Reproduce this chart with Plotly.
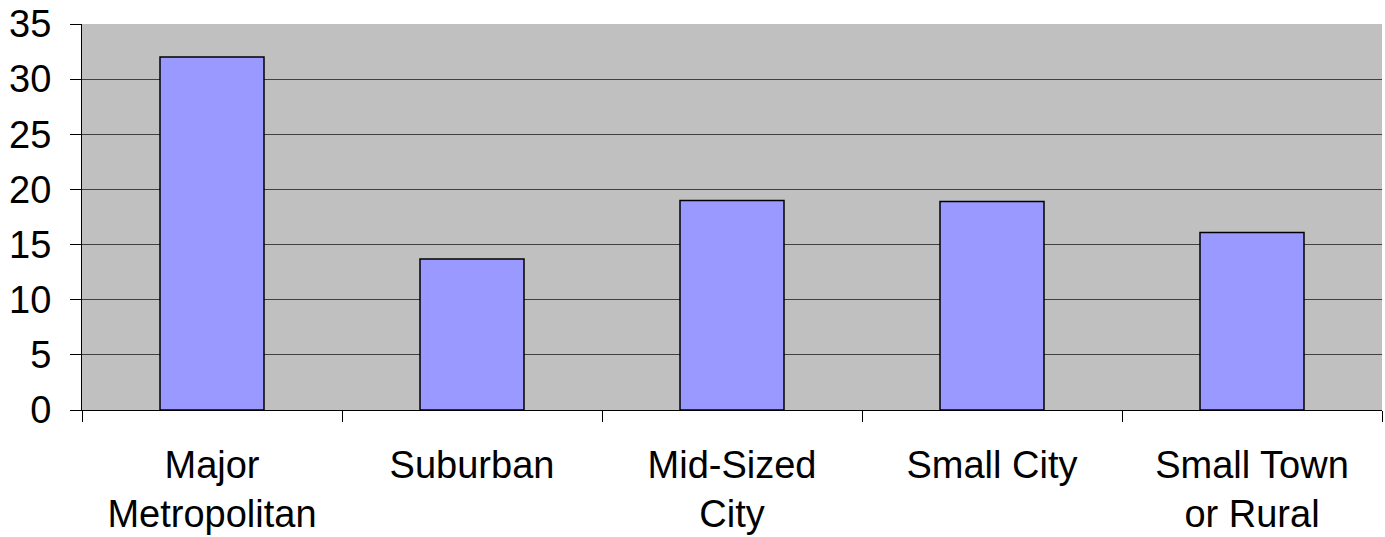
import plotly.graph_objects as go

categories = ["Major<br>Metropolitan", "Suburban", "Mid-Sized<br>City", "Small City", "Small Town<br>or Rural"]
values = [32.0, 13.7, 19.0, 18.9, 16.1]
y_ticks = [0, 5, 10, 15, 20, 25, 30, 35]

fig = go.Figure(go.Bar(
    x=categories, y=values, width=0.4,
    marker=dict(color="#9999FF", line=dict(color="black", width=1.5)),
))

fig.update_layout(
    width=1385, height=537,
    margin=dict(l=82, r=3, t=24, b=127, autoexpand=False),
    paper_bgcolor="white", plot_bgcolor="#C0C0C0",
    font=dict(family="Liberation Sans, Arial", size=38, color="black"),
    showlegend=False, bargap=0.6,
)
fig.update_xaxes(
    tickson="boundaries", ticks="outside", ticklen=11, tickcolor="black",
    showline=True, linecolor="black", linewidth=1, showgrid=False,
    tickfont=dict(size=38), automargin=False, ticklabelstandoff=21,
)
fig.update_yaxes(
    range=[0, 35], tickvals=y_ticks, ticks="outside", ticklen=11, tickcolor="black",
    showline=True, linecolor="black", linewidth=1,
    showgrid=True, gridcolor="#404040", gridwidth=1, zeroline=False,
    tickfont=dict(size=38), automargin=False, ticklabelstandoff=11,
)

fig.write_html("out.html", config={"displayModeBar": False},
               post_script="document.body.style.margin='0px';")
